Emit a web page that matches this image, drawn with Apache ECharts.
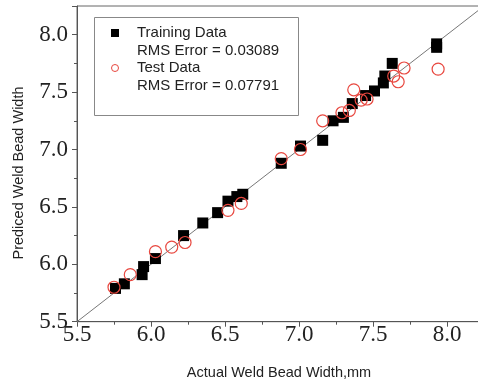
<!DOCTYPE html>
<html>
<head>
<meta charset="utf-8">
<script src="https://cdn.jsdelivr.net/npm/echarts@6/dist/echarts.min.js"></script>
<style>html,body{margin:0;padding:0;background:#fff;}#c{width:478px;height:384px;}</style>
</head>
<body>
<div id="c"></div>
<script>
const trainX = [5.76,5.82,5.94,5.95,6.03,6.22,6.35,6.45,6.52,6.58,6.62,6.88,7.01,7.16,7.23,7.30,7.36,7.45,7.51,7.57,7.58,7.63,7.93,7.93];
const trainY = [5.79,5.83,5.91,5.98,6.05,6.25,6.36,6.45,6.55,6.59,6.61,6.88,7.03,7.08,7.25,7.28,7.40,7.47,7.51,7.58,7.64,7.75,7.92,7.89];
const testX = [5.75,5.86,6.03,6.14,6.23,6.52,6.61,6.88,7.01,7.16,7.29,7.34,7.37,7.42,7.46,7.64,7.67,7.71,7.94];
const testY = [5.80,5.91,6.11,6.15,6.19,6.47,6.53,6.92,7.00,7.25,7.32,7.34,7.52,7.43,7.44,7.64,7.59,7.71,7.70];
const refLine = [5.5, 8.25];
const legendLines = ['Training Data', 'RMS Error = 0.03089', 'Test Data', 'RMS Error = 0.07791'];
const xTitle = 'Actual Weld Bead Width,mm';
const yTitle = 'Prediced Weld Bead Width';

const chart = echarts.init(document.getElementById('c'), null, {renderer: 'canvas'});
const sans = 'Liberation Sans, Arial, sans-serif';
const serif = 'Liberation Serif, Times New Roman, serif';
const axisCommon = {
  type: 'value',
  min: 5.5, max: 8.25, interval: 0.5,
  axisLine: {show: true, lineStyle: {color: '#555', width: 1}},
  axisTick: {show: true, length: 5, inside: false, lineStyle: {color: '#555'}},
  minorTick: {show: true, splitNumber: 2, length: 3, lineStyle: {color: '#555'}},
  splitLine: {show: false},
  axisLabel: {fontFamily: serif, fontSize: 23, color: '#222', showMaxLabel: false, formatter: v => v.toFixed(1)}
};
chart.setOption({
  animation: false,
  grid: {left: 77, width: 407, top: 6, height: 315.7, show: true, borderColor: '#666', borderWidth: 1,
         containLabel: false, outerBoundsMode: 'none'},
  xAxis: Object.assign({}, axisCommon, {
    axisLabel: Object.assign({}, axisCommon.axisLabel, {margin: 2})
  }),
  yAxis: Object.assign({}, axisCommon, {
    axisLabel: Object.assign({}, axisCommon.axisLabel, {margin: 9})
  }),
  series: [
    {type: 'line', data: [[refLine[0], refLine[0]], [refLine[1], refLine[1]]], symbol: 'none',
     lineStyle: {color: '#777', width: 1}, z: 1, silent: true},
    {type: 'scatter', name: 'Training Data', data: trainX.map((x, i) => [x, trainY[i]]),
     symbol: 'rect', symbolSize: 11, itemStyle: {color: '#000', opacity: 1}, z: 2},
    {type: 'scatter', name: 'Test Data', data: testX.map((x, i) => [x, testY[i]]),
     symbol: 'circle', symbolSize: 12, itemStyle: {color: 'rgba(255,255,255,0)', borderColor: '#e8473f', borderWidth: 1.2, opacity: 1}, z: 3}
  ],
  graphic: [
    {type: 'rect', shape: {x: 94.5, y: 17.5, width: 204, height: 98}, style: {fill: '#fff', stroke: '#888', lineWidth: 1}, z: 10},
    {type: 'rect', shape: {x: 111, y: 29, width: 8, height: 8}, style: {fill: '#000'}, z: 11},
    {type: 'circle', shape: {cx: 115, cy: 68, r: 3.5}, style: {fill: '#fff', stroke: '#e8473f', lineWidth: 1}, z: 11},
    {type: 'text', x: 137, y: 33, style: {text: legendLines[0], font: '15px ' + sans, fill: '#222', verticalAlign: 'middle'}, z: 11},
    {type: 'text', x: 137, y: 51, style: {text: legendLines[1], font: '15px ' + sans, fill: '#222', verticalAlign: 'middle'}, z: 11},
    {type: 'text', x: 137, y: 68, style: {text: legendLines[2], font: '15px ' + sans, fill: '#222', verticalAlign: 'middle'}, z: 11},
    {type: 'text', x: 137, y: 86, style: {text: legendLines[3], font: '15px ' + sans, fill: '#222', verticalAlign: 'middle'}, z: 11},
    {type: 'text', x: 279, y: 373, style: {text: xTitle, font: '14.5px ' + sans, fill: '#222', align: 'center', verticalAlign: 'middle'}, z: 11},
    {type: 'text', x: 19, y: 173, rotation: Math.PI / 2, style: {text: yTitle, font: '14.5px ' + sans, fill: '#222', align: 'center', verticalAlign: 'middle'}, z: 11}
  ]
});
</script>
</body>
</html>
